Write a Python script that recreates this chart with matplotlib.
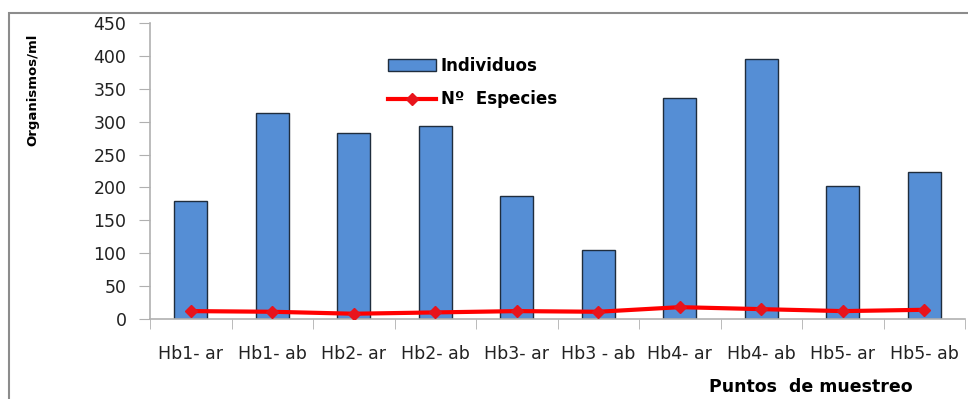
import numpy as np
import matplotlib
matplotlib.use("Agg")
import matplotlib.pyplot as plt
from matplotlib.patches import Rectangle

# data
puntos = ["Hb1- ar", "Hb1- ab", "Hb2- ar", "Hb2- ab", "Hb3- ar",
          "Hb3 - ab", "Hb4- ar", "Hb4- ab", "Hb5- ar", "Hb5- ab"]
individuos = [180, 313, 283, 293, 187, 105, 336, 395, 202, 224]
especies = [12, 11, 8, 10, 12, 11, 18, 15, 12, 14]

plt.rcParams["font.family"] = ["DejaVu Sans"]

fig = plt.figure(figsize=(9.68, 3.99), dpi=100)
ax = fig.add_axes([150 / 968, 1 - 319 / 399, 815 / 968, 296 / 399])

# outer chart frame (cropped by the image edges)
fig.patches.append(Rectangle((9 / 968, -0.1), 1.2, 1 - 13 / 399 + 0.1,
                             transform=fig.transFigure, fill=False,
                             edgecolor="#8c8c8c", linewidth=1.5))

x = np.arange(len(puntos))
bars = ax.bar(x, individuos, width=0.4, color="#558ed5", edgecolor="#1f2d3d",
              linewidth=1.0, label="Individuos", zorder=2)
line, = ax.plot(x, especies, color="#ff0000", linewidth=3, marker="D", markersize=6,
                markerfacecolor="#e8141c", markeredgecolor="#e8141c",
                label="Nº  Especies", zorder=3)

ax.set_xlim(-0.5, len(puntos) - 0.5)
ax.set_ylim(0, 450)
ax.set_yticks(range(0, 451, 50))

ax.set_xticks(x)
ax.set_xticklabels(puntos, fontsize=12.5, color="#222222")
ax.set_xticks(np.arange(-0.5, len(puntos), 1), minor=True)
ax.tick_params(axis="x", which="major", length=0, pad=19)
ax.tick_params(axis="x", which="minor", length=7, color="#b0b0b0", direction="out")
ax.tick_params(axis="y", labelsize=12.5, labelcolor="#222222", length=8,
               color="#b0b0b0", pad=9)

for side in ["top", "right"]:
    ax.spines[side].set_visible(False)
for side in ["left", "bottom"]:
    ax.spines[side].set_color("#b0b0b0")
    ax.spines[side].set_linewidth(1.2)

ax.set_ylabel("Organismos/ml", fontsize=9.5, fontweight="bold", color="black")
ax.yaxis.set_label_coords(-0.136, 0.774)

fig.text(811 / 968, 1 - 387 / 399, "Puntos  de muestreo", fontsize=12.5,
         fontweight="bold", ha="center", va="center")

ax.legend([bars, line], ["Individuos", "Nº  Especies"],
          loc="upper left", bbox_to_anchor=(231 / 815, 1 - 27 / 296),
          frameon=False, prop={"weight": "bold", "size": 12},
          handlelength=2.9, handleheight=0.7, labelspacing=0.95,
          handletextpad=0.3, borderaxespad=0)

fig.savefig("out.png", dpi=100, facecolor="white")
